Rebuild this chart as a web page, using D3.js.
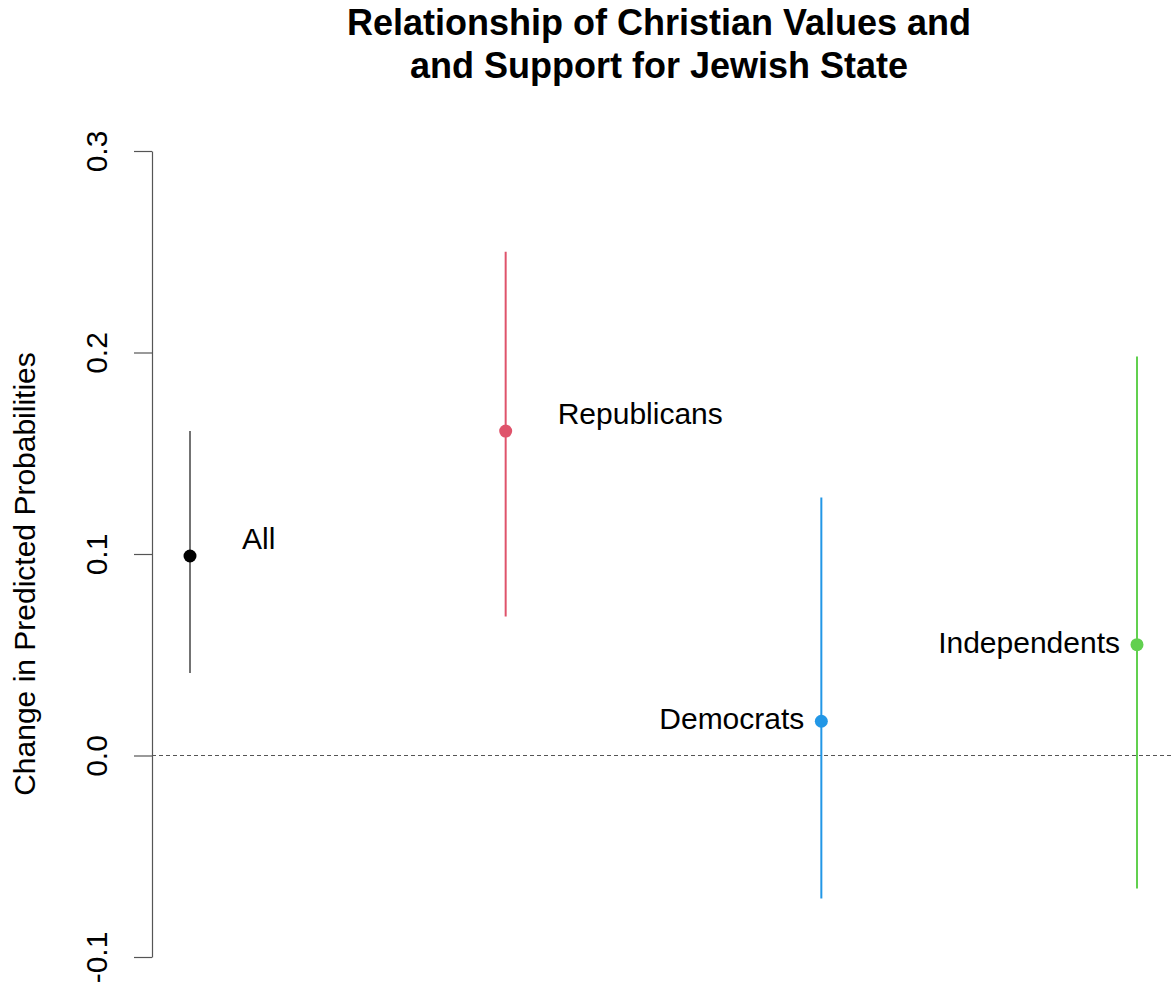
<!DOCTYPE html>
<html lang="en">
<head>
<meta charset="UTF-8">
<title>Christian Values and Support for Jewish State</title>
<script src="https://cdn.jsdelivr.net/npm/d3@7"></script>
<style>
  body { margin: 0; background: #fff; }
  text { font-family: "Liberation Sans", Arial, sans-serif; }
</style>
</head>
<body>
<svg></svg>
<script>
// point estimates and confidence bounds
var groups = ["All", "Republicans", "Democrats", "Independents"]
var estimates = [0.099, 0.161, 0.017, 0.055]
var lower = [0.041, 0.069, -0.071, -0.066]
var upper = [0.161, 0.250, 0.128, 0.198]
var colors = ["#000000", "#DF536B", "#2297E6", "#61D04F"]
var labelSide = ["right", "right", "left", "left"]
var yTicks = [-0.1, 0.0, 0.1, 0.2, 0.3]
var yTickLabels = ["-0.1", "0.0", "0.1", "0.2", "0.3"]

var svg = d3.select("svg")
    .attr("width", 1171)
    .attr("height", 987)

var x = d3.scaleLinear()
    .domain([1, 4])
    .range([190, 1137])

var y = d3.scaleLinear()
    .domain([-0.1, 0.3])
    .range([957, 151])

// y axis
var yAxis = svg.append("g")
    .attr("transform", "translate(152,0)")
    .call(d3.axisLeft(y).tickValues(yTicks)
        .tickFormat((d, i) => yTickLabels[i])
        .tickSize(18).tickSizeOuter(0))

yAxis.select(".domain").attr("stroke", "#555").attr("stroke-width", 1.2)
yAxis.selectAll(".tick line").attr("stroke", "#555").attr("stroke-width", 1.2)
yAxis.selectAll(".tick text")
    .attr("font-size", 30)
    .attr("fill", "#000")
    .attr("x", 0)
    .attr("dy", 0)
    .attr("text-anchor", "middle")
    .attr("transform", "translate(-53,0) rotate(-90)")
    .attr("dominant-baseline", "middle")

// reference line at zero
svg.append("line")
    .attr("x1", 152)
    .attr("x2", 1171)
    .attr("y1", y(0))
    .attr("y2", y(0))
    .attr("stroke", "#555")
    .attr("stroke-width", 1.2)
    .attr("stroke-dasharray", "4,3")

var idx = d3.range(groups.length)

svg.selectAll("line.ci")
    .data(idx)
    .join("line")
    .attr("class", "ci")
    .attr("x1", (i) => x(i + 1))
    .attr("x2", (i) => x(i + 1))
    .attr("y1", (i) => y(lower[i]))
    .attr("y2", (i) => y(upper[i]))
    .attr("stroke", (i) => i == 0 ? "#444" : colors[i])
    .attr("stroke-width", (i) => i == 0 ? 1.5 : 2)

svg.selectAll("circle")
    .data(idx)
    .join("circle")
    .attr("cx", (i) => x(i + 1))
    .attr("cy", (i) => y(estimates[i]))
    .attr("r", 6.5)
    .attr("fill", (i) => colors[i])

svg.selectAll("text.lab")
    .data(idx)
    .join("text")
    .attr("class", "lab")
    .attr("x", (i) => labelSide[i] == "right" ? x(i + 1) + 52 : x(i + 1) - 17)
    .attr("y", (i) => y(estimates[i]) + (labelSide[i] == "right" ? -15 : 0))
    .attr("text-anchor", (i) => labelSide[i] == "right" ? "start" : "end")
    .attr("dominant-baseline", "middle")
    .attr("font-size", 30)
    .text((i) => groups[i])

// y axis title
svg.append("text")
    .attr("transform", "translate(35,574) rotate(-90)")
    .attr("text-anchor", "middle")
    .attr("font-size", 30)
    .text("Change in Predicted Probabilities")

// title
var title = svg.append("text")
    .attr("text-anchor", "middle")
    .attr("font-size", 36)
    .attr("font-weight", "bold")
title.append("tspan").attr("x", 659).attr("y", 35).text("Relationship of Christian Values and")
title.append("tspan").attr("x", 659).attr("y", 78).text("and Support for Jewish State")
</script>
</body>
</html>
